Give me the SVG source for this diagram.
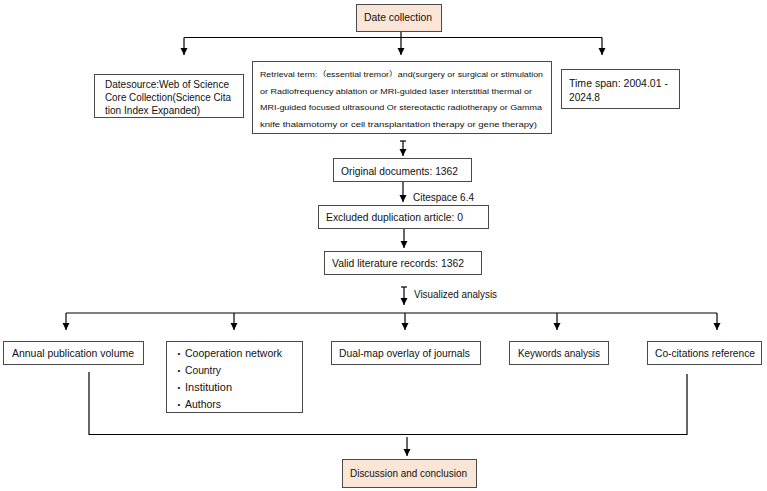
<svg xmlns="http://www.w3.org/2000/svg" width="767" height="491" viewBox="0 0 767 491">
<style>
  .box { fill: #ffffff; stroke: #4a4a4a; stroke-width: 1; }
  .peach { fill: #fbe5d6; stroke: #4a4a4a; stroke-width: 1; }
  text { font-family: "Liberation Sans", "Noto Sans CJK SC", sans-serif; fill: #111111; font-size: 10.5px; }
  .small { font-size: 7.5px; }
  .mid { font-size: 10px; }
  .bul { font-size: 8px; }
  .ln { fill: none; stroke: #000000; stroke-width: 1.2; }
  .arr { fill: none; stroke: #000000; stroke-width: 1.2; marker-end: url(#ah); }
</style>
<defs>
  <marker id="ah" markerUnits="userSpaceOnUse" markerWidth="8" markerHeight="8" refX="7" refY="3.5" orient="auto">
    <path d="M0,0 L7,3.5 L0,7 Z" fill="#000000"/>
  </marker>
</defs>
<rect width="767" height="491" fill="#ffffff"/>

<g id="connectors">
  <path class="ln" d="M401,32 V37.5 M184,37.5 H602"/>
  <path class="arr" d="M184,37.5 V55"/>
  <path class="arr" d="M401,37.5 V55"/>
  <path class="arr" d="M602,37.5 V55"/>
  <path class="ln" d="M400,141 H406"/>
  <path class="arr" d="M403,141 V156"/>
  <path class="arr" d="M403,182 V202"/>
  <path class="arr" d="M404,229 V248"/>
  <path class="ln" d="M401,287 H407"/>
  <path class="arr" d="M404,287 V305"/>
  <path class="ln" d="M66,313 H717"/>
  <path class="arr" d="M66,313 V330"/>
  <path class="arr" d="M234,313 V330"/>
  <path class="arr" d="M405,313 V330"/>
  <path class="arr" d="M557,313 V330"/>
  <path class="arr" d="M717,313 V330"/>
  <path class="ln" d="M89,372 V434.5 H687 V374"/>
  <path class="arr" d="M407,437 V456"/>
</g>

<g id="date-collection">
  <rect class="peach" x="356.5" y="4.5" width="85" height="27"/>
  <text x="364" y="21" textLength="68" lengthAdjust="spacingAndGlyphs">Date collection</text>
</g>

<g id="datesource">
  <rect class="box" x="94.5" y="74.5" width="149" height="43"/>
  <text class="mid" x="105" y="88" textLength="124" lengthAdjust="spacingAndGlyphs">Datesource:Web of Science</text>
  <text class="mid" x="105" y="101" textLength="126" lengthAdjust="spacingAndGlyphs">Core Collection(Science Cita</text>
  <text class="mid" x="105" y="114" textLength="95" lengthAdjust="spacingAndGlyphs">tion Index Expanded)</text>
</g>

<g id="retrieval">
  <rect class="box" x="252.5" y="61.5" width="299" height="72"/>
  <text class="small" x="260" y="77" textLength="283" lengthAdjust="spacingAndGlyphs">Retrieval term:（essential tremor）and(surgery or surgical or stimulation</text>
  <text class="small" x="260" y="93.5" textLength="272" lengthAdjust="spacingAndGlyphs">or Radiofrequency ablation or MRI-guided laser interstitial thermal or</text>
  <text class="small" x="260" y="110" textLength="282" lengthAdjust="spacingAndGlyphs">MRI-guided focused ultrasound Or stereotactic radiotherapy or Gamma</text>
  <text class="small" x="260" y="127" textLength="277" lengthAdjust="spacingAndGlyphs">knife thalamotomy or cell transplantation therapy or gene therapy)</text>
</g>

<g id="time-span">
  <rect class="box" x="561.5" y="69.5" width="118" height="39"/>
  <text x="569" y="87" textLength="99" lengthAdjust="spacingAndGlyphs">Time span: 2004.01 -</text>
  <text x="569" y="101" textLength="31" lengthAdjust="spacingAndGlyphs">2024.8</text>
</g>

<g id="original-documents">
  <rect class="box" x="333.5" y="158.5" width="138" height="23"/>
  <text x="341" y="174.5" textLength="117" lengthAdjust="spacingAndGlyphs">Original documents: 1362</text>
</g>

<g id="citespace-label">
  <text x="413" y="200.5" textLength="61" lengthAdjust="spacingAndGlyphs">Citespace 6.4</text>
</g>

<g id="excluded">
  <rect class="box" x="318.5" y="205.5" width="170" height="23"/>
  <text x="326" y="221" textLength="137" lengthAdjust="spacingAndGlyphs">Excluded duplication article: 0</text>
</g>

<g id="valid-records">
  <rect class="box" x="324.5" y="251.5" width="157" height="23"/>
  <text x="332" y="267" textLength="132" lengthAdjust="spacingAndGlyphs">Valid literature records: 1362</text>
</g>

<g id="visualized-label">
  <text x="414" y="298" textLength="83" lengthAdjust="spacingAndGlyphs">Visualized analysis</text>
</g>

<g id="annual">
  <rect class="box" x="3.5" y="341.5" width="140" height="23"/>
  <text x="12" y="357" textLength="122" lengthAdjust="spacingAndGlyphs">Annual publication volume</text>
</g>

<g id="cooperation">
  <rect class="box" x="166.5" y="341.5" width="136" height="71"/>
  <text class="bul" x="177.5" y="356">•</text>
  <text x="185" y="357" textLength="97" lengthAdjust="spacingAndGlyphs">Cooperation network</text>
  <text class="bul" x="177.5" y="373">•</text>
  <text x="185" y="374" textLength="36" lengthAdjust="spacingAndGlyphs">Country</text>
  <text class="bul" x="177.5" y="390">•</text>
  <text x="185" y="391" textLength="47" lengthAdjust="spacingAndGlyphs">Institution</text>
  <text class="bul" x="177.5" y="406.5">•</text>
  <text x="185" y="407.5" textLength="36" lengthAdjust="spacingAndGlyphs">Authors</text>
</g>

<g id="dual-map">
  <rect class="box" x="331.5" y="341.5" width="149" height="23"/>
  <text x="339" y="357" textLength="131" lengthAdjust="spacingAndGlyphs">Dual-map overlay of journals</text>
</g>

<g id="keywords">
  <rect class="box" x="509.5" y="341.5" width="99" height="23"/>
  <text x="518" y="357" textLength="82" lengthAdjust="spacingAndGlyphs">Keywords analysis</text>
</g>

<g id="co-citations">
  <rect class="box" x="647.5" y="341.5" width="114" height="23"/>
  <text x="655" y="357" textLength="100" lengthAdjust="spacingAndGlyphs">Co-citations reference</text>
</g>

<g id="discussion">
  <rect class="peach" x="342.5" y="459.5" width="134" height="28"/>
  <text x="350" y="477" textLength="117" lengthAdjust="spacingAndGlyphs">Discussion and conclusion</text>
</g>
</svg>
